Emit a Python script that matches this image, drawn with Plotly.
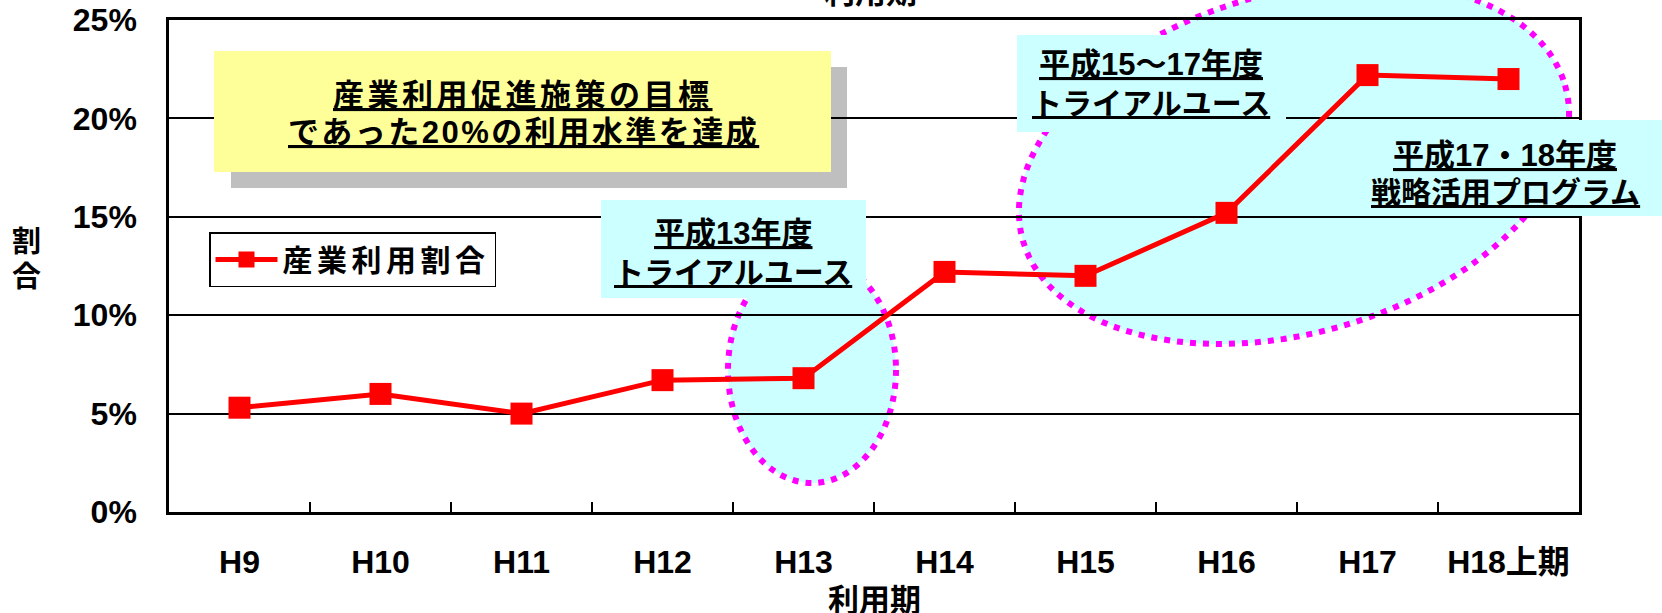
import numpy as np
import plotly.graph_objects as go

# ---------------- data ----------------
categories = ["H9", "H10", "H11", "H12", "H13", "H14", "H15", "H16", "H17", "H18上期"]
usage_share = [0.053, 0.060, 0.050, 0.067, 0.068, 0.122, 0.120, 0.152, 0.222, 0.220]
series_name = "産業利用割合"
y_ticks = [0, 0.05, 0.10, 0.15, 0.20, 0.25]
x_title = "利用期"
y_title = "割合"
goal_text = ["産業利用促進施策の目標", "であった20%の利用水準を達成"]
callout_13 = ["平成13年度", "トライアルユース"]
callout_15_17 = ["平成15～17年度", "トライアルユース"]
callout_17_18 = ["平成17・18年度", "戦略活用プログラム"]

# ---------------- layout geometry (pixels) ----------------
W, H = 1662, 613
L, R, T, B = 169, 1579, 20, 512


def px(x):
    return (x - L) / (R - L)


def py(y):
    return (B - y) / (B - T)


FONT = "Liberation Sans, Arial, Noto Sans CJK JP, sans-serif"
CYAN = "#CCFFFF"
MAGENTA = "#FF00FF"

fig = go.Figure()
fig.add_trace(go.Scatter(
    x=categories, y=usage_share, mode="lines+markers",
    name='<span style="letter-spacing:4.5px">' + series_name + "</span>",
    line=dict(color="#FF0000", width=5),
    marker=dict(symbol="square", size=22, color="#FF0000"),
    showlegend=True,
))

shapes = []
# ellipse around H13
shapes.append(dict(type="circle", xref="paper", yref="paper",
                   x0=px(728), x1=px(896), y0=py(483), y1=py(257),
                   fillcolor=CYAN, line=dict(color=MAGENTA, width=6, dash="6px,7px"),
                   layer="below"))
# tilted ellipse around H15-H18
cx, cy, a, b, th = 1294, 163, 282, 170, np.deg2rad(16)
t = np.linspace(0, 2 * np.pi, 121)
ex = cx + a * np.cos(t) * np.cos(th) + b * np.sin(t) * np.sin(th)
ey = cy - a * np.cos(t) * np.sin(th) + b * np.sin(t) * np.cos(th)
path = "M " + " L ".join(f"{px(x):.5f},{py(y):.5f}" for x, y in zip(ex, ey)) + " Z"
shapes.append(dict(type="path", xref="paper", yref="paper", path=path,
                   fillcolor=CYAN, line=dict(color=MAGENTA, width=6, dash="6px,7px"),
                   layer="below"))
# shadow + yellow goal box
shapes.append(dict(type="rect", xref="paper", yref="paper",
                   x0=px(231), x1=px(847), y0=py(188), y1=py(67),
                   fillcolor="#BFBFBF", line=dict(width=0), layer="below"))
shapes.append(dict(type="rect", xref="paper", yref="paper",
                   x0=px(214), x1=px(831), y0=py(172), y1=py(51),
                   fillcolor="#FFFF99", line=dict(width=0), layer="above"))
# cyan callout boxes
boxes = [(601, 866, 200, 298), (1017, 1286, 35, 132), (1348, 1662, 120, 216)]
for x0, x1, y0, y1 in boxes:
    shapes.append(dict(type="rect", xref="paper", yref="paper",
                       x0=px(x0), x1=px(x1), y0=py(y1), y1=py(y0),
                       fillcolor=CYAN, line=dict(width=0), layer="above"))


def line_ann(txt, x, y, size=30, spacing=0, underline=True):
    s = "<u>" + txt + "</u>" if underline else txt
    if spacing:
        s = '<span style="letter-spacing:%gpx">' % spacing + s + "</span>"
    return dict(text=s, xref="paper", yref="paper", x=px(x), y=py(y),
                xanchor="center", yanchor="middle", showarrow=False,
                font=dict(family=FONT, size=size, color="black", weight="bold"))


annotations = []
# goal box (wider glyph spacing as in the original)
annotations.append(line_ann(goal_text[0], 523, 95, 31, 3.5))
annotations.append(line_ann(goal_text[1], 523, 132, 31, 2.5))
# callouts
text_items = [
    (callout_13, 733, 233, 272),
    (callout_15_17, 1151, 65, 103),
    (callout_17_18, 1505, 155, 192),
]
for lines, x, y1, y2 in text_items:
    annotations.append(line_ann(lines[0], x, y1, 31))
    annotations.append(line_ann(lines[1], x, y2, 30))

# axis titles
annotations.append(dict(text=x_title, xref="paper", yref="paper", x=px(874), y=py(581),
                        xanchor="center", yanchor="top", showarrow=False,
                        font=dict(family=FONT, size=31, color="black", weight="bold")))
annotations.append(dict(text=x_title, xref="paper", yref="paper", x=px(870), y=py(12),
                        xanchor="center", yanchor="bottom", showarrow=False,
                        font=dict(family=FONT, size=31, color="black", weight="bold")))
for ch, yy in zip(y_title, [242, 277]):
    annotations.append(line_ann(ch, 26, yy, 29, underline=False))

fig.update_layout(
    width=W, height=H,
    margin=dict(l=L, r=W - R, t=T, b=H - B, pad=0, autoexpand=False),
    paper_bgcolor="white", plot_bgcolor="white",
    font=dict(family=FONT, color="black"),
    shapes=shapes, annotations=annotations,
    legend=dict(x=px(209), y=py(232), xanchor="left", yanchor="top",
                bgcolor="white", bordercolor="black", borderwidth=1.5,
                font=dict(family=FONT, size=30, color="black", weight="bold"),
                itemwidth=62),
    xaxis=dict(type="category", range=[-0.5, 9.5], showline=True, mirror=True,
               linecolor="black", linewidth=2.5, ticks="inside", tickson="boundaries",
               ticklen=10, tickwidth=1.5, tickcolor="black", showgrid=False,
               automargin=False,
               tickfont=dict(family=FONT, size=32, color="black", weight="bold"),
               ticklabelstandoff=20),
    yaxis=dict(range=[0, 0.25], tickvals=y_ticks, tickformat=".0%", showline=True,
               mirror=True, linecolor="black", linewidth=2.5, ticks="",
               showgrid=True, gridcolor="black", gridwidth=1.5, zeroline=False,
               automargin=False,
               tickfont=dict(family=FONT, size=32, color="black", weight="bold"),
               ticklabelstandoff=23),
)

fig.write_html("out.html")
